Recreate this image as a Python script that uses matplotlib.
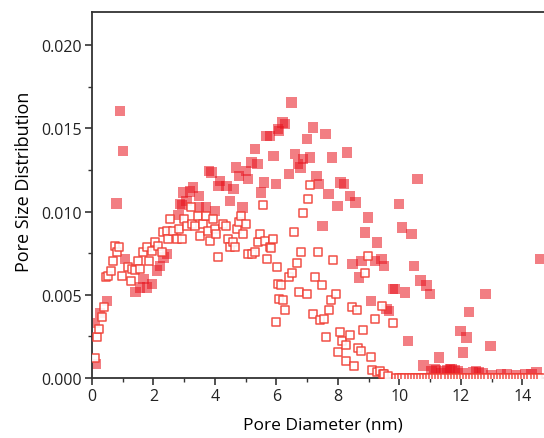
import matplotlib
matplotlib.use("Agg")
import matplotlib.pyplot as plt
from matplotlib.ticker import MultipleLocator, FormatStrFormatter

# filled squares
filled_x = [0.09, 0.11, 0.27, 0.49, 0.80, 0.91, 1.00, 1.08, 1.41, 1.57, 1.68, 1.79,
            1.95, 2.11, 2.22, 2.33, 2.44, 2.81, 2.86, 2.92, 2.97, 3.08, 3.19, 3.29,
            3.49, 3.49, 3.71, 3.80, 3.89, 4.00, 4.11, 4.16, 4.38, 4.49, 4.60, 4.68,
            4.79, 4.90, 5.01, 5.08, 5.19, 5.30, 5.39, 5.49, 5.60, 5.68, 5.79, 5.90,
            5.98, 6.06, 6.09, 6.20, 6.28, 6.41, 6.49, 6.60, 6.71, 6.79, 6.87, 6.99,
            7.09, 7.20, 7.31, 7.39, 7.50, 7.60, 7.69, 7.80, 7.99, 8.09, 8.19, 8.30,
            8.39, 8.48, 8.58, 8.69, 8.77, 8.89, 8.98, 9.07, 9.20, 9.27, 9.42, 9.50,
            9.58, 9.67, 9.80, 9.86, 9.99, 10.09, 10.18, 10.29, 10.40, 10.48, 10.59,
            10.69, 10.78, 10.88, 10.99, 11.05, 11.15, 11.20, 11.30, 11.35, 11.45,
            11.55, 11.64, 11.70, 11.80, 11.90, 11.99, 12.05, 12.07, 12.18, 12.27,
            12.40, 12.50, 12.60, 12.70, 12.80, 12.97, 13.00, 13.30, 13.50, 13.80,
            14.10, 14.30, 14.46, 14.57]
filled_y = [0.0033, 0.00084, 0.0039, 0.00464, 0.0105, 0.01605, 0.01365, 0.00715,
            0.00516, 0.00545, 0.00595, 0.00545, 0.00565, 0.00645, 0.00675, 0.00725,
            0.00745, 0.0098, 0.01045, 0.0104, 0.01115, 0.01065, 0.0112, 0.01145,
            0.01095, 0.01025, 0.01025, 0.01245, 0.01235, 0.01005, 0.01155, 0.01185,
            0.01155, 0.01065, 0.01135, 0.01265, 0.01215, 0.01025, 0.01245, 0.01195,
            0.01295, 0.01375, 0.01285, 0.01115, 0.01175, 0.01455, 0.01455, 0.01335,
            0.01165, 0.01495, 0.01485, 0.01536, 0.01526, 0.01225, 0.01656, 0.01345,
            0.01285, 0.01265, 0.01315, 0.01435, 0.01325, 0.01505, 0.01215, 0.01165,
            0.00915, 0.01465, 0.01105, 0.01325, 0.01035, 0.01175, 0.01165, 0.01355,
            0.01095, 0.00685, 0.01055, 0.00605, 0.00705, 0.00875, 0.00965, 0.00464,
            0.00705, 0.00815, 0.00715, 0.00675, 0.00414, 0.00404, 0.00535, 0.00535,
            0.01045, 0.00905, 0.00515, 0.00224, 0.00865, 0.00675, 0.01195, 0.00585,
            0.00074, 0.00555, 0.00505, 0.0004, 0.00054, 0.00045, 0.00124, 0.0003,
            0.0004, 0.00045, 0.00054, 0.0005, 0.00045, 0.0004, 0.00284, 0.0003,
            0.00154, 0.00244, 0.00395, 0.00035, 0.0004, 0.00035, 0.0003, 0.00505,
            0.00194, 0.00015, 0.0002, 0.0002, 0.00015, 0.0002, 0.00025, 0.00034,
            0.00715]

# open squares
open_x = [0.10, 0.15, 0.24, 0.31, 0.39, 0.46, 0.53, 0.61, 0.69, 0.75, 0.82, 0.89,
          0.97, 1.16, 1.27, 1.29, 1.40, 1.51, 1.56, 1.67, 1.78, 1.86, 1.94, 2.05,
          2.16, 2.27, 2.32, 2.43, 2.48, 2.54, 2.64, 2.75, 2.83, 2.92, 2.99, 3.08,
          3.21, 3.24, 3.35, 3.46, 3.51, 3.60, 3.71, 3.79, 3.84, 3.95, 4.00, 4.05,
          4.11, 4.25, 4.36, 4.43, 4.49, 4.60, 4.65, 4.71, 4.79, 4.84, 4.92, 5.01,
          5.08, 5.19, 5.30, 5.41, 5.46, 5.55, 5.63, 5.68, 5.79, 5.84, 5.90, 5.98,
          6.01, 6.06, 6.09, 6.15, 6.22, 6.28, 6.41, 6.51, 6.58, 6.66, 6.73, 6.80,
          6.87, 6.98, 7.04, 7.10, 7.20, 7.25, 7.34, 7.41, 7.49, 7.55, 7.63, 7.71,
          7.77, 7.85, 7.93, 8.01, 8.06, 8.12, 8.25, 8.28, 8.39, 8.47, 8.53, 8.61,
          8.66, 8.75, 8.82, 8.89, 8.98, 9.07, 9.12, 9.20, 9.26, 9.37, 9.44, 9.48,
          9.50, 9.62, 9.80]
open_y = [0.00118, 0.00244, 0.00294, 0.00364, 0.00424, 0.00605, 0.00615, 0.00645,
          0.00705, 0.00795, 0.00755, 0.0079, 0.00615, 0.00665, 0.00585, 0.00655,
          0.0065, 0.00705, 0.00655, 0.00755, 0.00785, 0.00705, 0.00765, 0.00815,
          0.00795, 0.00755, 0.00875, 0.00885, 0.00835, 0.00955, 0.00885, 0.00835,
          0.00895, 0.00835, 0.00955, 0.00915, 0.01025, 0.00925, 0.00915, 0.00975,
          0.00855, 0.00925, 0.00975, 0.00885, 0.00825, 0.00955, 0.00895, 0.00865,
          0.00725, 0.00925, 0.00915, 0.00835, 0.00785, 0.00815, 0.00785, 0.00895,
          0.00935, 0.00975, 0.00865, 0.00925, 0.00745, 0.00745, 0.00755, 0.00815,
          0.00865, 0.0104, 0.00825, 0.00715, 0.00785, 0.0078, 0.00835, 0.00338,
          0.00665, 0.00565, 0.00474, 0.0056, 0.00468, 0.00408, 0.00605, 0.00629,
          0.00875, 0.00689, 0.00515, 0.0076, 0.0099, 0.00505, 0.01075, 0.0116,
          0.00384, 0.00605, 0.0076, 0.00348, 0.00559, 0.00354, 0.00248, 0.00408,
          0.00468, 0.00709, 0.00505, 0.00154, 0.00274, 0.0022, 0.00198, 0.00104,
          0.0026, 0.00428, 0.00074, 0.00408, 0.0018, 0.0016, 0.0029, 0.00629,
          0.00735, 0.00124, 0.00048, 0.00354, 0.00034, 0.0004, 0.00434, 0.00024,
          0.00025, 0.00015, 0.00328]

# open squares lying on zero beyond ~9.9 nm
tail_x = [9.9, 10.0, 10.1, 10.2, 10.3, 10.4, 10.5, 10.6, 10.7, 10.8, 10.9, 11.0,
          11.1, 11.2, 11.3, 11.4, 11.5, 11.6, 11.7, 11.8, 11.9, 12.0, 12.1, 12.2,
          12.3, 12.4, 12.5, 12.6, 12.7, 12.8, 12.9, 13.0, 13.1, 13.2, 13.3, 13.4,
          13.5, 13.6, 13.7, 13.8, 13.9, 14.0, 14.1, 14.2, 14.3, 14.4, 14.5, 14.6]
tail_y = [0.0] * len(tail_x)

plt.rcParams["font.family"] = ["Open Sans", "DejaVu Sans"]

fig = plt.figure(figsize=(5.44, 4.39), dpi=100)
ax = fig.add_axes([92 / 544, 60 / 439, 461 / 544, 366 / 439])

ax.scatter(filled_x, filled_y, marker="s", s=56, color="#e8141e", alpha=0.55,
           edgecolors="none", zorder=2)
ax.scatter(open_x + tail_x, open_y + tail_y, marker="s", s=40, facecolor="white",
           edgecolors="#f03c32", linewidths=1.1, alpha=0.9, zorder=3)

ax.set_xlim(0, 15)
ax.set_ylim(0, 0.022)
ax.xaxis.set_major_locator(MultipleLocator(2))
ax.xaxis.set_minor_locator(MultipleLocator(1))
ax.yaxis.set_major_locator(MultipleLocator(0.005))
ax.yaxis.set_minor_locator(MultipleLocator(0.0025))
ax.yaxis.set_major_formatter(FormatStrFormatter("%.3f"))

for side in ["left", "bottom", "top", "right"]:
    ax.spines[side].set_linewidth(1.3)
    ax.spines[side].set_color("#333333")
ax.tick_params(which="major", direction="out", length=5, width=1.2,
               colors="#333333", labelsize=11.5, labelcolor="#222222", pad=2.5)
ax.tick_params(which="minor", direction="out", length=3, width=1.0, colors="#333333")

ax.set_xlabel("Pore Diameter (nm)", fontsize=12.5, labelpad=9)
ax.set_ylabel("Pore Size Distribution", fontsize=13)
ax.yaxis.set_label_coords(-0.128, 0.54)

fig.savefig("out.png", dpi=100)
